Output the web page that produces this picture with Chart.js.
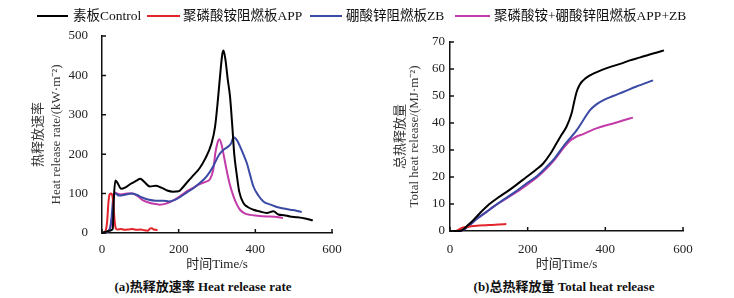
<!DOCTYPE html>
<html>
<head>
<meta charset="utf-8">
<script src="https://cdn.jsdelivr.net/npm/chart.js@4.4.1/dist/chart.umd.min.js"></script>
<style>
  body { margin: 0; background: #fff; }
  #wrap { position: relative; width: 734px; height: 298px; overflow: hidden;
          font-family: "Liberation Serif", "Noto Sans CJK SC", serif; color: #111; }
  canvas { position: absolute; top: 0; }
  .key { position: absolute; top: 15px; height: 2px; }
  .lab { position: absolute; top: 7px; font-size: 13.5px; line-height: 18px; white-space: nowrap; }
  .cap { position: absolute; top: 278px; font-size: 13px; font-weight: bold; line-height: 18px;
         white-space: nowrap; transform: translateX(-50%); }
</style>
</head>
<body>
<div id="wrap">
  <canvas id="hrr" width="370" height="275" style="left:0"></canvas>
  <canvas id="thr" width="364" height="275" style="left:370px"></canvas>

  <div class="key" style="left:37px;width:31px;background:#000"></div>
  <div class="lab" style="left:73px">素板Control</div>
  <div class="key" style="left:147px;width:33px;background:#e3242b"></div>
  <div class="lab" style="left:183px">聚磷酸铵阻燃板APP</div>
  <div class="key" style="left:310px;width:32px;background:#3a4aa5"></div>
  <div class="lab" style="left:346px">硼酸锌阻燃板ZB</div>
  <div class="key" style="left:455px;width:35px;background:#c23ba8"></div>
  <div class="lab" style="left:494px">聚磷酸铵+硼酸锌阻燃板APP+ZB</div>

  <div class="cap" style="left:203px">(a)热释放速率 Heat release rate</div>
  <div class="cap" style="left:564px">(b)总热释放量 Total heat release</div>
</div>
<script>
// series names and colours
const names = ['素板Control', '聚磷酸铵阻燃板APP', '硼酸锌阻燃板ZB', '聚磷酸铵+硼酸锌阻燃板APP+ZB'];
const colors = ['#000000', '#e3242b', '#3a4aa5', '#c23ba8'];

// heat release rate, kW/m2
const hrrTimeControl = [0, 10, 20, 28, 31, 35, 40, 50, 60, 75, 90, 100, 110, 125, 140, 155, 170, 185, 200, 210, 225, 240, 255, 270, 285, 295, 303, 310, 314, 317, 322, 328, 334, 340, 345, 351, 358, 369, 380, 395, 410, 430, 447, 460, 475, 490, 510, 530, 550];
const hrrControl = [0, 3, 6, 10, 90, 133, 128, 112, 115, 125, 133, 138, 130, 118, 120, 115, 108, 105, 106, 115, 132, 148, 165, 190, 225, 270, 345, 420, 455, 463, 440, 390, 346, 270, 200, 152, 105, 76, 66, 59, 55, 51, 55, 47, 45, 42, 40, 37, 32];
const hrrTimeApp = [0, 8, 13, 17, 20, 24, 27, 30, 33, 36, 40, 50, 60, 70, 80, 90, 100, 110, 120, 125, 130, 135, 140, 145];
const hrrApp = [0, 3, 25, 80, 98, 100, 95, 70, 30, 12, 9, 10, 8, 9, 10, 8, 9, 7, 6, 11, 12, 9, 8, 7];
const hrrTimeZb = [0, 10, 20, 25, 30, 35, 45, 60, 75, 90, 105, 120, 140, 160, 175, 190, 205, 220, 240, 255, 273, 290, 305, 317, 330, 337, 343, 350, 360, 370, 378, 387, 395, 408, 421, 440, 456, 475, 491, 505, 521];
const hrrZb = [0, 2, 10, 40, 95, 100, 95, 97, 100, 97, 90, 85, 82, 82, 80, 84, 92, 102, 115, 127, 144, 169, 198, 211, 220, 228, 243, 238, 220, 197, 177, 145, 118, 95, 80, 72, 66, 62, 59, 57, 53];
const hrrTimeAppZb = [0, 10, 20, 27, 33, 40, 50, 65, 80, 95, 107, 120, 135, 151, 165, 180, 195, 210, 225, 240, 255, 270, 282, 290, 296, 301, 306, 312, 318, 325, 333, 343, 352, 360, 372, 386, 405, 430, 450, 472];
const hrrAppZb = [0, 2, 8, 40, 103, 100, 98, 100, 100, 92, 83, 78, 74, 72, 74, 80, 88, 98, 108, 116, 124, 130, 137, 160, 205, 228, 238, 224, 195, 160, 125, 93, 72, 59, 50, 46, 44, 42, 41, 38];

// total heat release, MJ/m2
const thrTimeControl = [0, 15, 30, 45, 60, 77, 100, 125, 146, 170, 197, 220, 240, 258, 274, 288, 300, 313, 320, 326, 334, 343, 355, 369, 390, 411, 440, 463, 490, 514, 535, 551];
const thrControl = [0, 0, 0.2, 2, 4, 6.6, 9.8, 12.5, 14.5, 17, 20, 22.5, 25, 28.5, 32.4, 35.8, 38.6, 43.5, 48, 51.5, 54.2, 55.8, 57.2, 58.3, 59.6, 60.7, 62, 63.2, 64.3, 65.4, 66.2, 66.9];
const thrTimeApp = [15, 22, 30, 40, 55, 75, 100, 125, 145];
const thrApp = [0, 0.5, 1.1, 1.5, 1.8, 2.0, 2.2, 2.4, 2.6];
const thrTimeZb = [0, 20, 34, 51, 70, 94, 115, 137, 165, 197, 225, 249, 270, 291, 310, 326, 343, 360, 377, 394, 420, 446, 480, 523];
const thrZb = [0, 0, 0.4, 2.2, 4.6, 7.1, 9.3, 11.5, 14.2, 17.6, 20.5, 23.8, 27, 31.2, 34.5, 37.3, 41, 44.7, 46.9, 48.4, 50, 51.5, 53.5, 55.8];
const thrTimeAppZb = [0, 20, 34, 51, 70, 94, 115, 137, 165, 197, 225, 249, 270, 291, 310, 326, 343, 360, 377, 398, 420, 445, 471];
const thrAppZb = [0, 0, 0.4, 2.2, 4.6, 7.1, 9.3, 11.3, 13.8, 17, 20, 23.2, 26.5, 30.5, 33.5, 35, 35.9, 37, 38, 39, 39.8, 40.9, 42];

const timeTicks = [0, 200, 400, 600];

const serif = '"Liberation Serif", "Noto Sans CJK SC", serif';

function pts(xs, ys) {
    return xs.map((x, i) => ({ x: x, y: ys[i] }));
}

// tick marks point into the plot
const inwardTicks = {
    id: 'inwardTicks',
    afterDraw(chart) {
        const { ctx, chartArea: a, scales: { x, y } } = chart;
        ctx.save();
        ctx.strokeStyle = '#111';
        ctx.lineWidth = 1.5;
        ctx.beginPath();
        x.ticks.forEach(t => {
            const px = x.getPixelForValue(t.value);
            ctx.moveTo(px, a.bottom);
            ctx.lineTo(px, a.bottom - 4);
        });
        y.ticks.forEach(t => {
            const py = y.getPixelForValue(t.value);
            ctx.moveTo(a.left, py);
            ctx.lineTo(a.left + 4, py);
        });
        ctx.stroke();
        ctx.restore();
    }
};

function makeChart(id, series, tension, yMax, yStep, yTitle, box) {
    return new Chart(document.getElementById(id), {
        type: 'line',
        data: {
            datasets: series.map((s, i) => ({
                label: names[i],
                data: pts(s[0], s[1]),
                borderColor: colors[i],
                borderWidth: 2,
                pointRadius: 0,
                tension: tension,
                cubicInterpolationMode: tension ? 'monotone' : 'default',
                clip: false
            }))
        },
        options: {
            responsive: false,
            animation: false,
            layout: { padding: { left: 0, top: box.top, right: box.right, bottom: 0 } },
            plugins: { legend: { display: false }, tooltip: { enabled: false } },
            scales: {
                x: {
                    type: 'linear',
                    min: 0, max: 600,
                    afterBuildTicks: s => { s.ticks = timeTicks.map(v => ({ value: v })); },
                    afterFit: s => { s.height = box.xHeight; },
                    grid: { display: false, drawTicks: false },
                    border: { display: true, color: '#111', width: 1.5 },
                    ticks: { padding: box.xPad, color: '#222', font: { family: serif, size: 13 } },
                    title: {
                        display: true, text: '时间Time/s', color: '#222',
                        padding: { top: 0, bottom: 3 },
                        font: { family: serif, size: 13 }
                    }
                },
                y: {
                    min: 0, max: yMax,
                    ticks: { stepSize: yStep, padding: box.yPad, color: '#222', font: { family: serif, size: 13 } },
                    afterFit: s => { s.width = box.yWidth; },
                    grid: { display: false, drawTicks: false },
                    border: { display: true, color: '#111', width: 1.5 },
                    title: {
                        display: true, text: yTitle, color: '#333',
                        padding: { top: box.titlePad, bottom: 0 },
                        font: { family: serif, size: 13, lineHeight: box.titleLine }
                    }
                }
            }
        },
        plugins: [inwardTicks]
    });
}

makeChart('hrr',
    [[hrrTimeControl, hrrControl], [hrrTimeApp, hrrApp], [hrrTimeZb, hrrZb], [hrrTimeAppZb, hrrAppZb]],
    0.15, 500, 100, ['热释放速率', 'Heat release rate/(kW·m⁻²)'],
    { top: 36, right: 38, xHeight: 42, xPad: 9, yWidth: 102, yPad: 14, titlePad: 29, titleLine: 1.4 });

makeChart('thr',
    [[thrTimeControl, thrControl], [thrTimeApp, thrApp], [thrTimeZb, thrZb], [thrTimeAppZb, thrAppZb]],
    0.4, 70, 10, ['总热释放量', 'Total heat release/(MJ·m⁻²)'],
    { top: 42, right: 51, xHeight: 44, xPad: 11, yWidth: 80, yPad: 5, titlePad: 24, titleLine: 1.05 });
</script>
</body>
</html>
